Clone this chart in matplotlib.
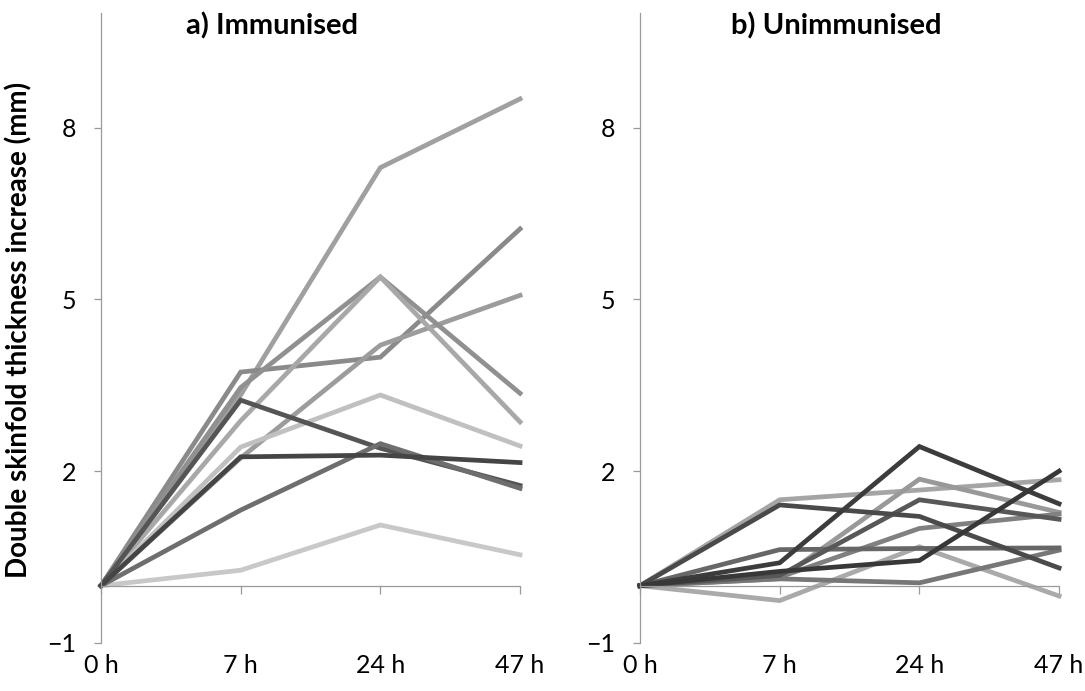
import matplotlib.pyplot as plt
import numpy as np

plt.rcParams['font.family'] = ['Lato', 'DejaVu Sans']

times = ['0 h', '7 h', '24 h', '47 h']

# panel a) immunised animals, one row per animal
immunised = [
    [0, 3.33, 7.30, 8.50],
    [0, 3.73, 3.99, 6.23],
    [0, 2.23, 4.20, 5.07],
    [0, 3.46, 5.39, 3.36],
    [0, 2.88, 5.39, 2.86],
    [0, 2.42, 3.33, 2.44],
    [0, 0.27, 1.06, 0.54],
    [0, 3.24, 2.40, 1.75],
    [0, 1.32, 2.48, 1.70],
    [0, 2.25, 2.28, 2.15],
]
immunised_colors = ['#a0a0a0', '#8a8a8a', '#9c9c9c', '#909090', '#a8a8a8',
                    '#c0c0c0', '#c8c8c8', '#555555', '#6e6e6e', '#454545']

# panel b) unimmunised animals
unimmunised = [
    [0, 1.50, 1.67, 1.85],
    [0, 0.12, 1.86, 1.28],
    [0, -0.26, 0.68, -0.18],
    [0, 0.15, 1.00, 1.25],
    [0, 0.12, 0.05, 0.62],
    [0, 0.63, 0.65, 0.66],
    [0, 0.18, 1.50, 1.16],
    [0, 1.41, 1.21, 0.31],
    [0, 0.40, 2.43, 1.43],
    [0, 0.25, 0.44, 2.00],
]
unimmunised_colors = ['#a5a5a5', '#999999', '#aaaaaa', '#808080', '#777777',
                      '#676767', '#585858', '#4a4a4a', '#3c3c3c', '#383838']

axis_grey = '#9a9a9a'

fig = plt.figure(figsize=(10.85, 6.91), dpi=100)
ax_a = fig.add_axes([0.0931, 0.0695, 0.3862, 0.9117])
ax_b = fig.add_axes([0.5899, 0.0695, 0.3862, 0.9117])

x = np.arange(len(times))
for ax, data, colors in [(ax_a, immunised, immunised_colors),
                         (ax_b, unimmunised, unimmunised_colors)]:
    for vals, c in zip(data, colors):
        ax.plot(x, vals, color=c, lw=3.4, solid_joinstyle='miter', clip_on=False)

    ax.set_xlim(0, 3)
    ax.set_ylim(-1, 10)
    ax.set_yticks([-1, 2, 5, 8])
    ax.set_xticks(x)
    ax.set_xticklabels(times)

    for s in ['top', 'right']:
        ax.spines[s].set_visible(False)
    ax.spines['bottom'].set_position(('data', 0))
    ax.spines['left'].set_color(axis_grey)
    ax.spines['bottom'].set_color(axis_grey)
    ax.spines['left'].set_linewidth(0.9)
    ax.spines['bottom'].set_linewidth(0.9)

    ax.tick_params(axis='y', direction='out', length=5, width=0.9, color=axis_grey,
                   pad=13, labelsize=18)
    ax.tick_params(axis='x', direction='out', length=6, width=0.9, color=axis_grey,
                   pad=43, labelsize=18)

fig.text(0.017, 0.522, 'Double skinfold thickness increase (mm)', rotation=90,
         ha='center', va='center', fontsize=20, fontweight='bold')
fig.text(0.2507, 0.962, 'a) Immunised', ha='center', va='center',
         fontsize=21, fontweight='bold')
fig.text(0.771, 0.962, 'b) Unimmunised', ha='center', va='center',
         fontsize=21, fontweight='bold')

fig.savefig('out.png', dpi=100)
